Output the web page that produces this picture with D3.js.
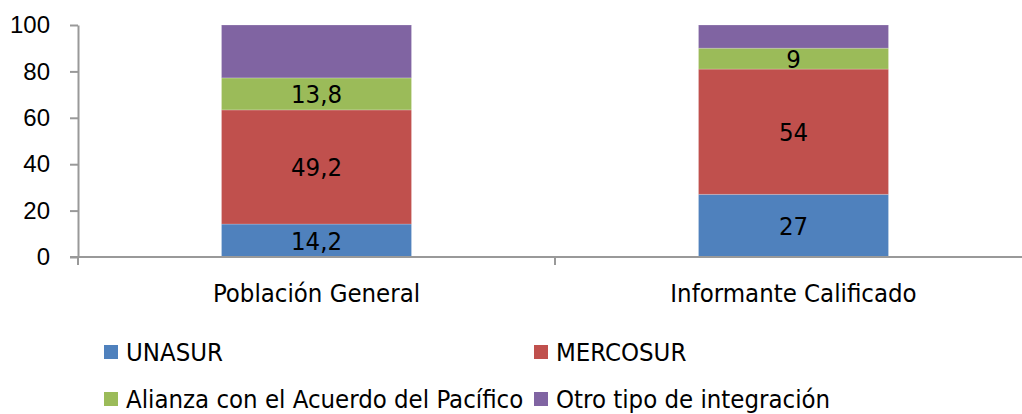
<!DOCTYPE html>
<html>
<head>
<meta charset="utf-8">
<script src="https://cdn.jsdelivr.net/npm/d3@7"></script>
<style>
  body { margin: 0; background: #fff; }
  svg { display: block; }
</style>
</head>
<body>
<div id="chart"></div>
<script>
// data
var categories = ['Población General', 'Informante Calificado'];
var seriesNames = ['UNASUR', 'MERCOSUR', 'Alianza con el Acuerdo del Pacífico', 'Otro tipo de integración'];
var seriesColors = ['#4F81BD', '#C0504D', '#9BBB59', '#8064A2'];
var unasur = [14.2, 27];
var mercosur = [49.2, 54];
var alianza = [13.8, 9];
var otro = [22.8, 10];
var labelTexts = [['14,2', '49,2', '13,8', ''], ['27', '54', '9', '']];
var yTicks = [0, 20, 40, 60, 80, 100];

var attrs = {
    svgWidth: 1022,
    svgHeight: 414,
    plotLeft: 78,
    plotRight: 1032,
    plotTop: 25,
    plotBottom: 257,
    barWidth: 190,
    font: '"DejaVu Sans Condensed", "DejaVu Sans", sans-serif',
    fontSize: '25.5px',
    axisColor: '#999'
};

var svg = d3.select('#chart')
    .append('svg')
    .attr('width', attrs.svgWidth)
    .attr('height', attrs.svgHeight);

// table for the stack
var table = categories.map(function (c, i) {
    return { cat: i, UNASUR: unasur[i], MERCOSUR: mercosur[i], alianza: alianza[i], otro: otro[i] };
});
var keys = ['UNASUR', 'MERCOSUR', 'alianza', 'otro'];
var stacked = d3.stack().keys(keys)(table);

// scales
var x = d3.scaleBand()
    .domain(categories)
    .range([attrs.plotLeft, attrs.plotRight]);

var y = d3.scaleLinear()
    .domain([0, 100])
    .range([attrs.plotBottom, attrs.plotTop]);

// bars
var layers = svg.selectAll('g.layer')
    .data(stacked)
    .enter()
    .append('g')
    .attr('class', 'layer')
    .attr('fill', function (d, i) { return seriesColors[i]; });

layers.selectAll('rect')
    .data(function (d) { return d; })
    .enter()
    .append('rect')
    .attr('x', function (d, i) { return x(categories[i]) + (x.bandwidth() - attrs.barWidth) / 2; })
    .attr('width', attrs.barWidth)
    .attr('y', function (d) { return y(d[1]); })
    .attr('height', function (d) { return y(d[0]) - y(d[1]); })
    .attr('stroke', '#fff')
    .attr('stroke-opacity', 0.2)
    .attr('stroke-width', 1);

// data labels
layers.each(function (layer, si) {
    d3.select(this).selectAll('text')
        .data(layer)
        .enter()
        .append('text')
        .attr('x', function (d, i) { return x(categories[i]) + x.bandwidth() / 2; })
        .attr('y', function (d) { return (y(d[0]) + y(d[1])) / 2; })
        .attr('dy', '0.36em')
        .attr('text-anchor', 'middle')
        .attr('fill', '#000')
        .style('font-family', attrs.font)
        .style('font-size', attrs.fontSize)
        .text(function (d, i) { return labelTexts[i][si]; });
});

// y axis
var yAxis = svg.append('g')
    .attr('transform', 'translate(' + attrs.plotLeft + ',0)')
    .call(d3.axisLeft(y).tickValues(yTicks).tickSize(8).tickPadding(20).tickSizeOuter(0));
yAxis.select('.domain').attr('stroke', attrs.axisColor).attr('stroke-width', 2);
yAxis.selectAll('.tick line').attr('stroke', attrs.axisColor).attr('stroke-width', 2);
yAxis.selectAll('.tick text')
    .attr('fill', '#000')
    .style('font-family', '"Liberation Sans", Arial, sans-serif')
    .style('font-size', '24px');

// x axis
var xAxisG = svg.append('g').attr('transform', 'translate(0,' + attrs.plotBottom + ')');
xAxisG.append('line')
    .attr('x1', attrs.plotLeft - 8)
    .attr('x2', attrs.svgWidth)
    .attr('stroke', attrs.axisColor)
    .attr('stroke-width', 2);
var bounds = categories.map(function (c) { return x(c); }).concat([attrs.plotRight]);
xAxisG.selectAll('line.tk')
    .data(bounds)
    .enter()
    .append('line')
    .attr('class', 'tk')
    .attr('x1', function (d) { return d; })
    .attr('x2', function (d) { return d; })
    .attr('y1', 0)
    .attr('y2', 8)
    .attr('stroke', attrs.axisColor)
    .attr('stroke-width', 2);
xAxisG.selectAll('text')
    .data(categories)
    .enter()
    .append('text')
    .attr('x', function (d) { return x(d) + x.bandwidth() / 2; })
    .attr('y', 45)
    .attr('text-anchor', 'middle')
    .attr('fill', '#000')
    .style('font-family', attrs.font)
    .style('font-size', attrs.fontSize)
    .text(function (d) { return d; });

// legend
var legendCols = [104, 534];
var legendRows = [352, 399];
var legend = svg.selectAll('g.legend')
    .data(seriesNames)
    .enter()
    .append('g')
    .attr('class', 'legend')
    .attr('transform', function (d, i) {
        return 'translate(' + legendCols[i % 2] + ',' + legendRows[Math.floor(i / 2)] + ')';
    });
legend.append('rect')
    .attr('x', 0)
    .attr('y', -7)
    .attr('width', 14)
    .attr('height', 14)
    .attr('fill', function (d, i) { return seriesColors[i]; });
legend.append('text')
    .attr('x', 22)
    .attr('y', 0)
    .attr('dy', '0.36em')
    .attr('fill', '#000')
    .style('font-family', attrs.font)
    .style('font-size', attrs.fontSize)
    .text(function (d) { return d; });
</script>
</body>
</html>
